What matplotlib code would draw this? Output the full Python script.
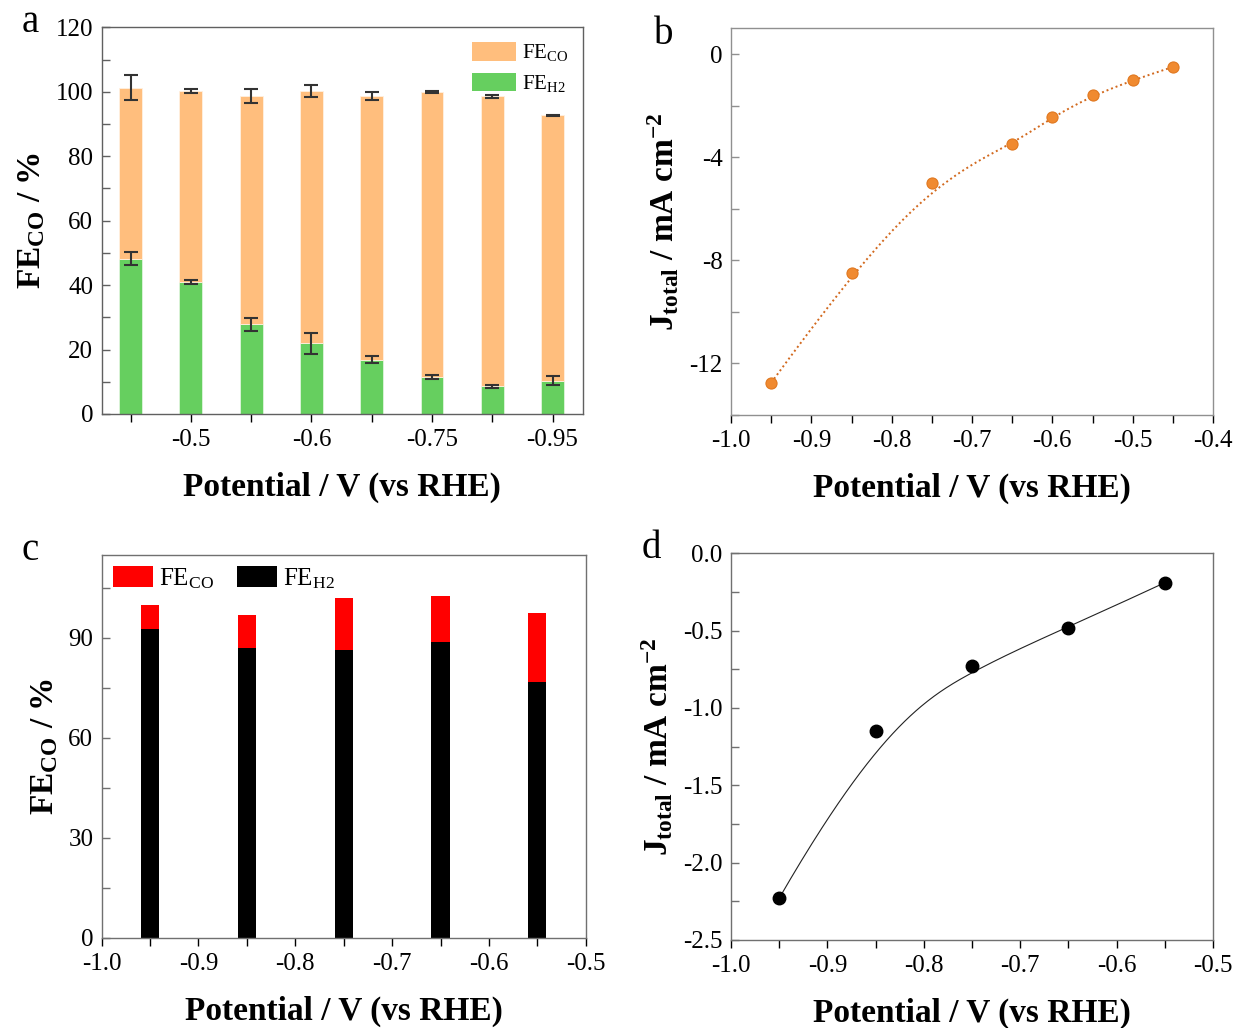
import numpy as np
import matplotlib
matplotlib.use("Agg")
import matplotlib.pyplot as plt
from matplotlib.patches import Patch
from matplotlib.ticker import MultipleLocator

plt.rcParams['font.family'] = 'Liberation Serif'
plt.rcParams['mathtext.fontset'] = 'custom'
plt.rcParams['mathtext.rm'] = 'Liberation Serif'
plt.rcParams['mathtext.it'] = 'Liberation Serif:italic'
plt.rcParams['mathtext.bf'] = 'Liberation Serif:bold'
plt.rcParams['axes.unicode_minus'] = False

# ---------------- data ----------------
# panel a
a_labels = ['', '-0.5', '', '-0.6', '', '-0.75', '', '-0.95']
a_potentials = [-0.45, -0.5, -0.55, -0.6, -0.65, -0.75, -0.85, -0.95]
a_fe_h2 = [48.2, 41.0, 27.8, 21.9, 16.8, 11.6, 8.6, 10.3]
a_total = [101.3, 100.3, 98.6, 100.3, 98.6, 99.9, 98.6, 92.7]
a_err_total = [3.9, 0.6, 2.2, 1.8, 1.2, 0.3, 0.4, 0.1]
a_err_h2 = [2.0, 0.7, 2.1, 3.3, 1.1, 0.6, 0.4, 1.4]

# panel b
b_potential = [-0.95, -0.85, -0.75, -0.65, -0.6, -0.55, -0.5, -0.45]
b_j = [-12.75, -8.49, -5.0, -3.50, -2.45, -1.60, -1.01, -0.50]

# panel c
c_potential = [-0.95, -0.85, -0.75, -0.65, -0.55]
c_fe_h2 = [92.8, 86.9, 86.5, 88.9, 76.9]
c_fe_co = [7.2, 10.1, 15.5, 13.8, 20.5]

# panel d
d_potential = [-0.95, -0.85, -0.75, -0.65, -0.55]
d_j = [-2.23, -1.15, -0.73, -0.48, -0.19]


def bspline(px, py, k=3, n=300):
    """Clamped uniform B-spline using the data points as control points."""
    P = np.column_stack([px, py]).astype(float)
    m = len(P)
    k = min(k, m - 1)
    inner = np.linspace(0, 1, m - k + 1)[1:-1]
    t = np.concatenate([np.zeros(k + 1), inner, np.ones(k + 1)])
    u = np.linspace(0, 1, n)
    u[-1] = 1 - 1e-12
    N = np.zeros((n, len(t) - 1))
    for i in range(len(t) - 1):
        N[:, i] = np.where((t[i] <= u) & (u < t[i + 1]), 1.0, 0.0)
    for d in range(1, k + 1):
        Nn = np.zeros((n, len(t) - 1 - d))
        for i in range(len(t) - 1 - d):
            a = np.zeros(n)
            b = np.zeros(n)
            if t[i + d] != t[i]:
                a = (u - t[i]) / (t[i + d] - t[i]) * N[:, i]
            if t[i + d + 1] != t[i + 1]:
                b = (t[i + d + 1] - u) / (t[i + d + 1] - t[i + 1]) * N[:, i + 1]
            Nn[:, i] = a + b
        N = Nn
    C = N @ P
    return C[:, 0], C[:, 1]


W, H = 1238, 1028
fig = plt.figure(figsize=(W / 100, H / 100), dpi=100)


def add_ax(l, r, t, b):
    return fig.add_axes([l / W, 1 - b / H, (r - l) / W, (b - t) / H])


TICK_FS = 18
LAB_FS = 24
SPINE_C = '#606060'


def style(ax, spine_c=SPINE_C):
    for s in ax.spines.values():
        s.set_color(spine_c)
        s.set_linewidth(1.0)
    ax.tick_params(axis='y', which='both', direction='in', length=6, width=1,
                   color=spine_c, labelsize=TICK_FS, pad=6)
    ax.tick_params(axis='x', which='both', direction='out', length=6, width=1,
                   color='black', labelsize=TICK_FS, pad=5)
    ax.tick_params(which='both', top=False, right=False)


def xlab(ax):
    ax.set_xlabel('Potential / V (vs RHE)', fontsize=LAB_FS, fontweight='bold', labelpad=15)


# ---------------- panel a ----------------
ax = add_ax(101.7, 582.7, 27.3, 414)
x = np.arange(len(a_labels))
co = np.array(a_total) - np.array(a_fe_h2)
ax.bar(x, a_fe_h2, width=0.38, color='#66CF5F', edgecolor='#dff5dc', linewidth=0.6, zorder=2)
ax.bar(x, co, bottom=a_fe_h2, width=0.38, color='#FFBE7D', edgecolor='#fff0e0', linewidth=0.6, zorder=2)
ax.errorbar(x, a_total, yerr=a_err_total, fmt='none', ecolor='#333333', elinewidth=1.5,
            capsize=5, capthick=1.5, zorder=3)
ax.errorbar(x, a_fe_h2, yerr=a_err_h2, fmt='none', ecolor='#333333', elinewidth=1.5,
            capsize=5, capthick=1.5, zorder=3)
ax.set_xlim(-0.48, 7.5)
ax.set_ylim(0, 120)
ax.set_xticks(x)
ax.set_xticklabels(a_labels)
ax.yaxis.set_major_locator(MultipleLocator(20))
ax.yaxis.set_minor_locator(MultipleLocator(10))
style(ax)
xlab(ax)
ax.set_ylabel(r'$\mathbf{FE_{CO}}$ / %', fontsize=LAB_FS, fontweight='bold', labelpad=6)
ax.legend(handles=[Patch(facecolor='#FFBE7D', label=r'FE$_{\mathrm{CO}}$'),
                   Patch(facecolor='#66CF5F', label=r'FE$_{\mathrm{H2}}$')],
          loc='upper right', frameon=False, fontsize=15, handlelength=2.1,
          handleheight=1.0, labelspacing=0.45, handletextpad=0.3,
          borderaxespad=0.3)

# ---------------- panel b ----------------
ax = add_ax(731, 1213, 28.3, 415)
sx, sy = bspline(b_potential, b_j)
ax.plot(sx, sy, linestyle=(0, (1, 1.5)), color='#D2691E', linewidth=1.4, zorder=2)
ax.plot(b_potential, b_j, 'o', markersize=8, markerfacecolor='#F08A30', markeredgecolor='#E07820',
        markeredgewidth=0.8, zorder=3)
ax.set_xlim(-1.0, -0.4)
ax.set_ylim(-14, 1)
ax.xaxis.set_minor_locator(MultipleLocator(0.05))
ax.yaxis.set_minor_locator(MultipleLocator(2))
ax.set_xticks([-1.0, -0.9, -0.8, -0.7, -0.6, -0.5, -0.4])
ax.set_xticklabels(['-1.0', '-0.9', '-0.8', '-0.7', '-0.6', '-0.5', '-0.4'])
ax.set_yticks([0, -4, -8, -12])
ax.set_yticklabels(['0', '-4', '-8', '-12'])
style(ax, '#909090')
xlab(ax)
ax.set_ylabel(r'$\mathbf{J_{total}}$ / mA cm$^{\mathbf{-2}}$', fontsize=LAB_FS,
              fontweight='bold', labelpad=6)

# ---------------- panel c ----------------
ax = add_ax(101.7, 585.7, 554.7, 937.7)
ax.bar(c_potential, c_fe_h2, width=0.019, color='black', zorder=2)
ax.bar(c_potential, c_fe_co, bottom=c_fe_h2, width=0.019, color='#FF0000', zorder=2)
ax.set_xlim(-1.0, -0.5)
ax.set_ylim(0, 115)
ax.set_xticks([-1.0, -0.9, -0.8, -0.7, -0.6, -0.5])
ax.set_xticklabels(['-1.0', '-0.9', '-0.8', '-0.7', '-0.6', '-0.5'])
ax.xaxis.set_minor_locator(MultipleLocator(0.05))
ax.yaxis.set_major_locator(MultipleLocator(30))
ax.yaxis.set_minor_locator(MultipleLocator(15))
style(ax, '#707070')
xlab(ax)
ax.set_ylabel(r'$\mathbf{FE_{CO}}$ / %', fontsize=LAB_FS, fontweight='bold', labelpad=6)
ax.legend(handles=[Patch(facecolor='#FF0000', label=r'FE$_{\mathrm{CO}}$'),
                   Patch(facecolor='black', label=r'FE$_{\mathrm{H2}}$')],
          loc='upper left', frameon=False, fontsize=18, ncol=2, handlelength=1.6,
          handleheight=0.9, handletextpad=0.25, columnspacing=0.9, borderaxespad=0.05)

# ---------------- panel d ----------------
ax = add_ax(731, 1213, 553.3, 940)
sx, sy = bspline(d_potential, d_j)
ax.plot(sx, sy, color='#222222', linewidth=0.8, zorder=2)
ax.plot(d_potential, d_j, 'o', markersize=9, color='black', zorder=3)
ax.set_xlim(-1.0, -0.5)
ax.set_ylim(-2.5, 0.0)
ax.set_xticks([-1.0, -0.9, -0.8, -0.7, -0.6, -0.5])
ax.set_xticklabels(['-1.0', '-0.9', '-0.8', '-0.7', '-0.6', '-0.5'])
ax.xaxis.set_minor_locator(MultipleLocator(0.05))
ax.set_yticks([0.0, -0.5, -1.0, -1.5, -2.0, -2.5])
ax.set_yticklabels(['0.0', '-0.5', '-1.0', '-1.5', '-2.0', '-2.5'])
ax.yaxis.set_minor_locator(MultipleLocator(0.25))
style(ax, '#707070')
xlab(ax)
ax.set_ylabel(r'$\mathbf{J_{total}}$ / mA cm$^{\mathbf{-2}}$', fontsize=LAB_FS,
              fontweight='bold', labelpad=6)

# panel letters
for lab, px, py in [('a', 30, 22), ('b', 664, 34), ('c', 30, 550), ('d', 651, 549)]:
    fig.text(px / W, 1 - py / H, lab, fontsize=28, ha='center', va='center')

fig.savefig('out.png', dpi=100)
